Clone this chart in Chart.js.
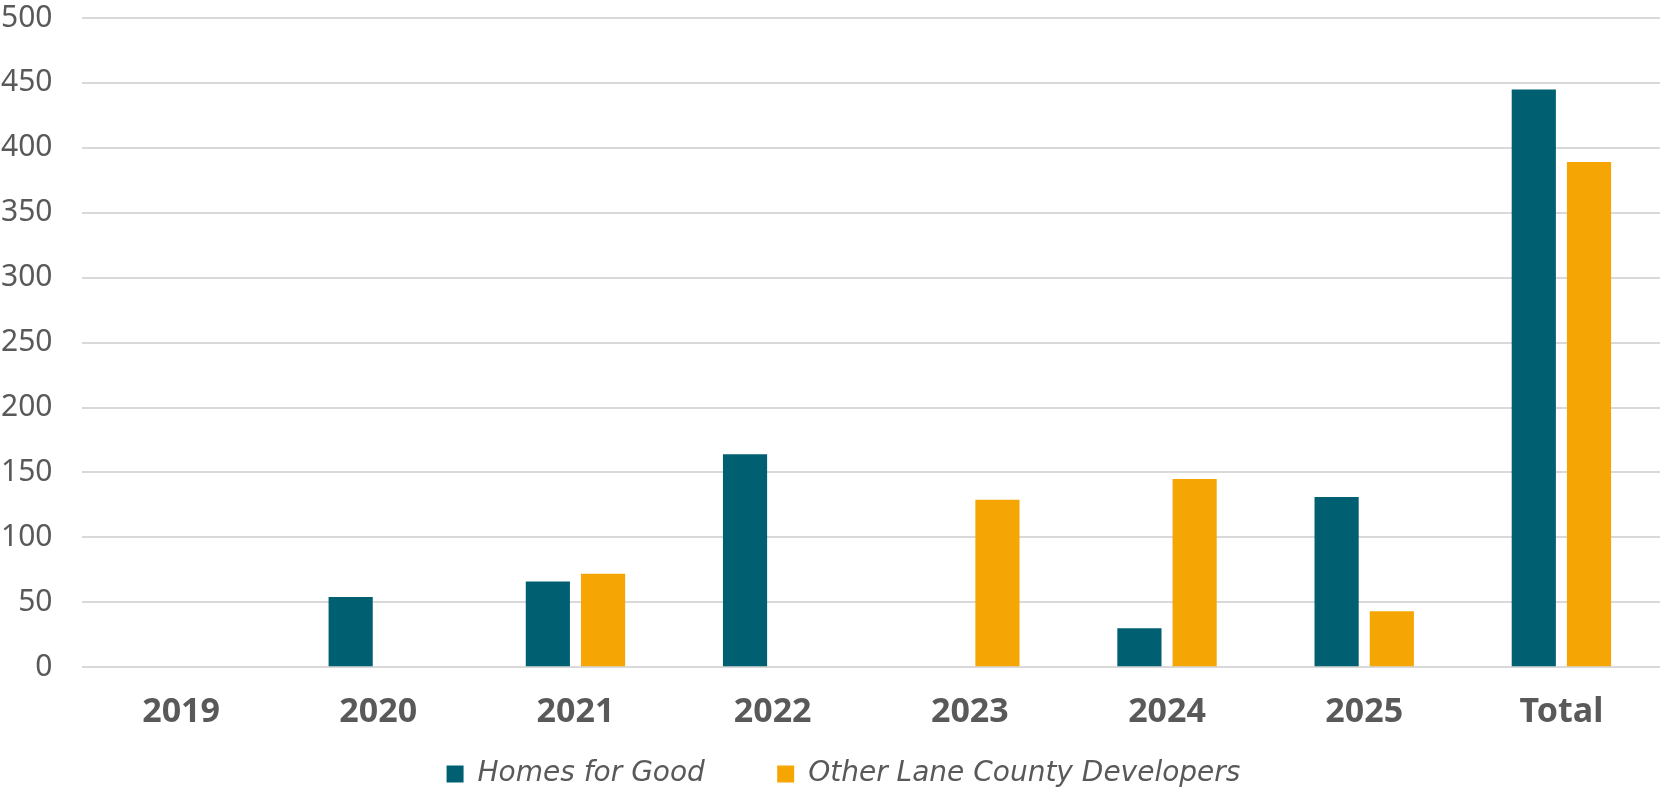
<!DOCTYPE html>
<html>
<head>
<meta charset="utf-8">
<script src="https://cdn.jsdelivr.net/npm/chart.js@4/dist/chart.umd.min.js"></script>
<style>
    html, body { margin: 0; padding: 0; background: #ffffff; }
    #wrap { width: 1666px; height: 790px; position: relative; }
</style>
</head>
<body>
<div id="wrap"><canvas id="unitsChart"></canvas></div>
<script>
// カテゴリと系列データ
const years = ['2019', '2020', '2021', '2022', '2023', '2024', '2025', 'Total'];
const homesForGood = [null, 54, 66, 164, null, 30, 131, 445];
const otherDevelopers = [null, null, 72, null, 129, 145, 43, 389];
const seriesNames = ['Homes for Good', 'Other Lane County Developers'];
const yTicks = [0, 50, 100, 150, 200, 250, 300, 350, 400, 450, 500];

const TEAL = '#005F70';
const ORANGE = '#F5A605';
const TEXT = '#595959';

// 凡例を少し右へずらす
const legendShift = {
    id: 'legendShift',
    afterLayout(c) {
        if (!c.legend) return;
        c.legend.left += 13;
        c.legend.right += 13;
    }
};

const ctx = document.getElementById('unitsChart');
const chart = new Chart(ctx, {
    type: 'bar',
    data: {
        labels: years,
        datasets: [{
            label: seriesNames[0],
            data: homesForGood,
            backgroundColor: TEAL,
            barPercentage: 0.8,
            categoryPercentage: 0.56
        }, {
            label: seriesNames[1],
            data: otherDevelopers,
            backgroundColor: ORANGE,
            barPercentage: 0.8,
            categoryPercentage: 0.56
        }]
    },
    plugins: [legendShift],
    options: {
        responsive: true,
        maintainAspectRatio: false,
        animation: false,
        layout: {
            padding: { left: 1, right: 6, top: 0, bottom: -8 }
        },
        plugins: {
            tooltip: { enabled: false },
            legend: {
                position: 'bottom',
                labels: {
                    boxWidth: 17,
                    boxHeight: 17,
                    padding: 10,
                    color: TEXT,
                    font: { family: 'DejaVu Sans', size: 28, style: 'italic' },
                    // 項目間の間隔を広げる
                    generateLabels: (c) => {
                        const items = Chart.defaults.plugins.legend.labels.generateLabels(c);
                        items.forEach((it, i) => {
                            it.lineWidth = 0;
                            if (i < items.length - 1) it.text = it.text + '       ';
                        });
                        return items;
                    }
                }
            }
        },
        scales: {
            x: {
                grid: { display: false },
                border: { display: false },
                ticks: {
                    color: TEXT,
                    padding: 17,
                    font: { family: 'Noto Sans', size: 34, weight: 'bold' }
                }
            },
            y: {
                min: 0,
                max: 500,
                afterBuildTicks: (axis) => {
                    axis.ticks = yTicks.map(v => ({ value: v }));
                },
                grid: { color: '#D9D9D9', lineWidth: 2, drawTicks: true, tickLength: 30, tickColor: 'transparent' },
                border: { display: false },
                ticks: {
                    color: TEXT,
                    padding: 0,
                    font: { family: 'Noto Sans', size: 30 }
                }
            }
        }
    }
});
</script>
</body>
</html>
